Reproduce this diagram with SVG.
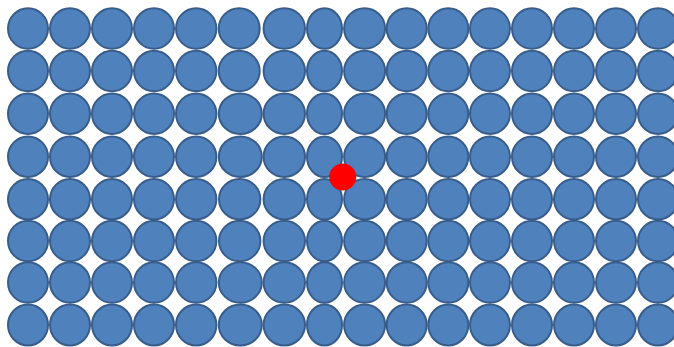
<svg xmlns="http://www.w3.org/2000/svg" width="674" height="347" viewBox="0 0 674 347">
<style>
.c{fill:#4F81BD;stroke:#385D8A;stroke-width:2}
.dot{fill:#FF0000}
</style>
<rect width="674" height="347" fill="#FFFFFF"/>
<g id="grid">
<g id="row1">
<ellipse class="c" cx="28" cy="28.5" rx="20" ry="20.3"/><ellipse class="c" cx="70" cy="28.5" rx="20" ry="20.3"/><ellipse class="c" cx="112" cy="28.5" rx="20" ry="20.3"/><ellipse class="c" cx="154" cy="28.5" rx="20" ry="20.3"/><ellipse class="c" cx="196.2" cy="28.5" rx="20.2" ry="20.3"/><ellipse class="c" cx="239.2" cy="28.5" rx="20.5" ry="20.3"/><ellipse class="c" cx="284.3" cy="28.5" rx="20.7" ry="20.3"/><ellipse class="c" cx="324.5" cy="28.5" rx="17.5" ry="20.3"/><ellipse class="c" cx="364.6" cy="28.5" rx="20.5" ry="20.3"/><ellipse class="c" cx="406.7" cy="28.5" rx="20" ry="20.3"/><ellipse class="c" cx="448.3" cy="28.5" rx="20" ry="20.3"/><ellipse class="c" cx="490" cy="28.5" rx="20" ry="20.3"/><ellipse class="c" cx="532" cy="28.5" rx="20" ry="20.3"/><ellipse class="c" cx="574" cy="28.5" rx="20" ry="20.3"/><ellipse class="c" cx="616" cy="28.5" rx="20" ry="20.3"/><ellipse class="c" cx="658" cy="28.5" rx="20" ry="20.3"/>
</g>
<g id="row2">
<ellipse class="c" cx="28" cy="71" rx="20" ry="20.3"/><ellipse class="c" cx="70" cy="71" rx="20" ry="20.3"/><ellipse class="c" cx="112" cy="71" rx="20" ry="20.3"/><ellipse class="c" cx="154" cy="71" rx="20" ry="20.3"/><ellipse class="c" cx="196.2" cy="71" rx="20.2" ry="20.3"/><ellipse class="c" cx="239.2" cy="71" rx="20.5" ry="20.3"/><ellipse class="c" cx="284.3" cy="71" rx="20.7" ry="20.3"/><ellipse class="c" cx="324.5" cy="71" rx="17.5" ry="20.3"/><ellipse class="c" cx="364.6" cy="71" rx="20.5" ry="20.3"/><ellipse class="c" cx="406.7" cy="71" rx="20" ry="20.3"/><ellipse class="c" cx="448.3" cy="71" rx="20" ry="20.3"/><ellipse class="c" cx="490" cy="71" rx="20" ry="20.3"/><ellipse class="c" cx="532" cy="71" rx="20" ry="20.3"/><ellipse class="c" cx="574" cy="71" rx="20" ry="20.3"/><ellipse class="c" cx="616" cy="71" rx="20" ry="20.3"/><ellipse class="c" cx="658" cy="71" rx="20" ry="20.3"/>
</g>
<g id="row3">
<ellipse class="c" cx="28" cy="113.7" rx="20" ry="20.3"/><ellipse class="c" cx="70" cy="113.7" rx="20" ry="20.3"/><ellipse class="c" cx="112" cy="113.7" rx="20" ry="20.3"/><ellipse class="c" cx="154" cy="113.7" rx="20" ry="20.3"/><ellipse class="c" cx="196.2" cy="113.7" rx="20.2" ry="20.3"/><ellipse class="c" cx="240.3" cy="113.7" rx="21.5" ry="20.3"/><ellipse class="c" cx="284.3" cy="113.7" rx="20.7" ry="20.3"/><ellipse class="c" cx="324.5" cy="113.7" rx="17.5" ry="20.3"/><ellipse class="c" cx="364.6" cy="113.7" rx="20.5" ry="20.3"/><ellipse class="c" cx="406.7" cy="113.7" rx="20" ry="20.3"/><ellipse class="c" cx="448.3" cy="113.7" rx="20" ry="20.3"/><ellipse class="c" cx="490" cy="113.7" rx="20" ry="20.3"/><ellipse class="c" cx="532" cy="113.7" rx="20" ry="20.3"/><ellipse class="c" cx="574" cy="113.7" rx="20" ry="20.3"/><ellipse class="c" cx="616" cy="113.7" rx="20" ry="20.3"/><ellipse class="c" cx="658" cy="113.7" rx="20" ry="20.3"/>
</g>
<g id="row4">
<ellipse class="c" cx="28" cy="156.7" rx="20" ry="20.3"/><ellipse class="c" cx="70" cy="156.7" rx="20" ry="20.3"/><ellipse class="c" cx="112" cy="156.7" rx="20" ry="20.3"/><ellipse class="c" cx="154" cy="156.7" rx="20" ry="20.3"/><ellipse class="c" cx="196.2" cy="156.7" rx="20.2" ry="20.3"/><ellipse class="c" cx="240.3" cy="156.7" rx="21.5" ry="20.3"/><ellipse class="c" cx="284.3" cy="156.7" rx="20.7" ry="20.3"/><ellipse class="c" cx="324.5" cy="156.7" rx="17.5" ry="20.3"/><ellipse class="c" cx="364.6" cy="156.7" rx="20.5" ry="20.3"/><ellipse class="c" cx="406.7" cy="156.7" rx="20" ry="20.3"/><ellipse class="c" cx="448.3" cy="156.7" rx="20" ry="20.3"/><ellipse class="c" cx="490" cy="156.7" rx="20" ry="20.3"/><ellipse class="c" cx="532" cy="156.7" rx="20" ry="20.3"/><ellipse class="c" cx="574" cy="156.7" rx="20" ry="20.3"/><ellipse class="c" cx="616" cy="156.7" rx="20" ry="20.3"/><ellipse class="c" cx="658" cy="156.7" rx="20" ry="20.3"/>
</g>
<g id="row5">
<ellipse class="c" cx="28" cy="199.2" rx="20" ry="20.3"/><ellipse class="c" cx="70" cy="199.2" rx="20" ry="20.3"/><ellipse class="c" cx="112" cy="199.2" rx="20" ry="20.3"/><ellipse class="c" cx="154" cy="199.2" rx="20" ry="20.3"/><ellipse class="c" cx="196.2" cy="199.2" rx="20.2" ry="20.3"/><ellipse class="c" cx="239.7" cy="199.2" rx="20.7" ry="20.3"/><ellipse class="c" cx="284.3" cy="199.2" rx="20.7" ry="20.3"/><ellipse class="c" cx="324.5" cy="199.2" rx="17.5" ry="20.3"/><ellipse class="c" cx="364.6" cy="199.2" rx="20.5" ry="20.3"/><ellipse class="c" cx="406.7" cy="199.2" rx="20" ry="20.3"/><ellipse class="c" cx="448.3" cy="199.2" rx="20" ry="20.3"/><ellipse class="c" cx="490" cy="199.2" rx="20" ry="20.3"/><ellipse class="c" cx="532" cy="199.2" rx="20" ry="20.3"/><ellipse class="c" cx="574" cy="199.2" rx="20" ry="20.3"/><ellipse class="c" cx="616" cy="199.2" rx="20" ry="20.3"/><ellipse class="c" cx="658" cy="199.2" rx="20" ry="20.3"/>
</g>
<g id="row6">
<ellipse class="c" cx="28" cy="241" rx="20" ry="20.3"/><ellipse class="c" cx="70" cy="241" rx="20" ry="20.3"/><ellipse class="c" cx="112" cy="241" rx="20" ry="20.3"/><ellipse class="c" cx="154" cy="241" rx="20" ry="20.3"/><ellipse class="c" cx="196.2" cy="241" rx="20.2" ry="20.3"/><ellipse class="c" cx="239.7" cy="241" rx="20.7" ry="20.3"/><ellipse class="c" cx="284.3" cy="241" rx="20.7" ry="20.3"/><ellipse class="c" cx="324.5" cy="241" rx="17.5" ry="20.3"/><ellipse class="c" cx="364.6" cy="241" rx="20.5" ry="20.3"/><ellipse class="c" cx="406.7" cy="241" rx="20" ry="20.3"/><ellipse class="c" cx="448.3" cy="241" rx="20" ry="20.3"/><ellipse class="c" cx="490" cy="241" rx="20" ry="20.3"/><ellipse class="c" cx="532" cy="241" rx="20" ry="20.3"/><ellipse class="c" cx="574" cy="241" rx="20" ry="20.3"/><ellipse class="c" cx="616" cy="241" rx="20" ry="20.3"/><ellipse class="c" cx="658" cy="241" rx="20" ry="20.3"/>
</g>
<g id="row7">
<ellipse class="c" cx="28" cy="282.5" rx="20" ry="20.3"/><ellipse class="c" cx="70" cy="282.5" rx="20" ry="20.3"/><ellipse class="c" cx="112" cy="282.5" rx="20" ry="20.3"/><ellipse class="c" cx="154" cy="282.5" rx="20" ry="20.3"/><ellipse class="c" cx="196.2" cy="282.5" rx="20.2" ry="20.3"/><ellipse class="c" cx="240.3" cy="282.5" rx="21.5" ry="20.3"/><ellipse class="c" cx="284.3" cy="282.5" rx="20.7" ry="20.3"/><ellipse class="c" cx="324.5" cy="282.5" rx="17.5" ry="20.3"/><ellipse class="c" cx="364.6" cy="282.5" rx="20.5" ry="20.3"/><ellipse class="c" cx="406.7" cy="282.5" rx="20" ry="20.3"/><ellipse class="c" cx="448.3" cy="282.5" rx="20" ry="20.3"/><ellipse class="c" cx="490" cy="282.5" rx="20" ry="20.3"/><ellipse class="c" cx="532" cy="282.5" rx="20" ry="20.3"/><ellipse class="c" cx="574" cy="282.5" rx="20" ry="20.3"/><ellipse class="c" cx="616" cy="282.5" rx="20" ry="20.3"/><ellipse class="c" cx="658" cy="282.5" rx="20" ry="20.3"/>
</g>
<g id="row8">
<ellipse class="c" cx="28" cy="325" rx="20" ry="20.5"/><ellipse class="c" cx="70" cy="325" rx="20" ry="20.5"/><ellipse class="c" cx="112" cy="325" rx="20" ry="20.5"/><ellipse class="c" cx="154" cy="325" rx="20" ry="20.5"/><ellipse class="c" cx="196.2" cy="325" rx="20.2" ry="20.5"/><ellipse class="c" cx="240.3" cy="325" rx="21.5" ry="20.5"/><ellipse class="c" cx="284.3" cy="325" rx="20.7" ry="20.5"/><ellipse class="c" cx="324.5" cy="325" rx="17.5" ry="20.5"/><ellipse class="c" cx="364.6" cy="325" rx="20.5" ry="20.5"/><ellipse class="c" cx="406.7" cy="325" rx="20" ry="20.5"/><ellipse class="c" cx="448.3" cy="325" rx="20" ry="20.5"/><ellipse class="c" cx="490" cy="325" rx="20" ry="20.5"/><ellipse class="c" cx="532" cy="325" rx="20" ry="20.5"/><ellipse class="c" cx="574" cy="325" rx="20" ry="20.5"/><ellipse class="c" cx="616" cy="325" rx="20" ry="20.5"/><ellipse class="c" cx="658" cy="325" rx="20" ry="20.5"/>
</g>
</g>
<g id="red-dot">
<circle class="dot" cx="342.7" cy="177" r="13.5"/>
</g>
</svg>
